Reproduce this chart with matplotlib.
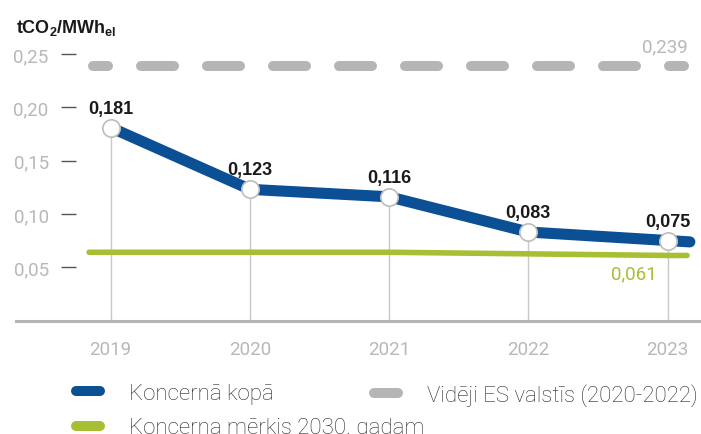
import numpy as np
import matplotlib.pyplot as plt
from matplotlib.lines import Line2D

plt.rcParams['font.family'] = ['Roboto', 'Liberation Sans', 'DejaVu Sans']
plt.rcParams['mathtext.fontset'] = 'custom'
plt.rcParams['mathtext.bf'] = 'Liberation Sans:bold'
plt.rcParams['mathtext.rm'] = 'Liberation Sans'

years = ['2019', '2020', '2021', '2022', '2023']
group_total = [0.181, 0.123, 0.116, 0.083, 0.075]
target_2030 = [0.064, 0.064, 0.064, 0.0625, 0.061]
eu_average = 0.239
yticks = [0.05, 0.10, 0.15, 0.20, 0.25]

labels = ['Koncernā kopā', 'Koncerna mērķis 2030. gadam', 'Vidēji ES valstīs (2020-2022)']

blue = '#0b4f95'
green = '#a6bf33'
grey = '#b5b5b5'
tick_grey = '#b8b8b8'

def comma(v, n):
  return (('%.' + str(n) + 'f') % v).replace('.', ',')

fig = plt.figure(figsize=(7.01, 4.35), dpi=100)
ax = fig.add_axes([16 / 701, 1 - 321.5 / 435, 685 / 701, 281.5 / 435])

xs = np.arange(len(years))
ax.set_xlim(-0.68, 4.24)
ax.set_ylim(0, 0.264)

# lines run a bit past the first and last year
ext = 0.16
bx = list(xs) + [xs[-1] + ext]
by = group_total + [group_total[-1] + (group_total[-1] - group_total[-2]) * ext]
gx = [-0.155] + list(xs) + [4.14]
gy = [target_2030[0]] + target_2030 + [target_2030[-1]]

# thin drop lines from each point to the baseline
for x, v in zip(xs, group_total):
  ax.plot([x, x], [0, v], color='#c9c9c9', lw=1.0, zorder=1)

ax.plot([-0.13, 4.12], [eu_average, eu_average], color=grey, lw=7.2,
        dash_capstyle='round', linestyle=(1.8, (3.3, 3.3)), zorder=2)
ax.plot(gx, gy, color=green, lw=4.0, solid_capstyle='round', zorder=3)
ax.plot(bx, by, color=blue, lw=8.0, solid_capstyle='round',
        solid_joinstyle='round', zorder=4)
ax.plot(xs, group_total, 'o', ms=12.5, mfc='white', mec='#bdbdbd', mew=1.2, zorder=5)

for x, v in zip(xs, group_total):
  ax.annotate(comma(v, 3), (x, v), xytext=(0, 14),
              textcoords='offset points', ha='center', va='center',
              fontsize=13, fontweight='bold', color='#1a1a1a',
              family=['Liberation Sans', 'DejaVu Sans'])

ax.annotate(comma(eu_average, 3), (xs[-1], eu_average),
            xytext=(-2, 14), textcoords='offset points', ha='center', va='center',
            fontsize=13.5, color=tick_grey)
ax.annotate(comma(target_2030[-1], 3), (xs[-1], target_2030[-1]),
            xytext=(-8, -13), textcoords='offset points', ha='right', va='center',
            fontsize=13.5, color=green)

# axes styling
for s in ['top', 'right', 'left']:
  ax.spines[s].set_visible(False)
ax.spines['bottom'].set_color(grey)
ax.spines['bottom'].set_linewidth(2.2)

ax.set_xticks(xs)
ax.set_xticklabels(years)
ax.tick_params(axis='x', length=0, pad=14, labelsize=13.5, labelcolor=tick_grey)

ax.spines['left'].set_position(('data', -0.355))
ax.set_yticks(yticks)
ax.set_yticklabels([comma(v, 2) for v in yticks])
ax.tick_params(axis='y', direction='in', length=11, width=1.0, color='#555555',
               pad=9, labelsize=13.5, labelcolor=tick_grey)

fig.text(16 / 701, 1 - 28 / 435, r'$\mathbf{tCO_2/MWh_{el}}$', fontsize=13,
         color='#1a1a1a', va='center', ha='left')

# legend: two groups placed side by side
h_blue = Line2D([], [], color=blue, lw=7.2, solid_capstyle='round')
h_green = Line2D([], [], color=green, lw=7.2, solid_capstyle='round')
h_grey = Line2D([], [], color=grey, lw=7.2, solid_capstyle='round')

leg_kw = dict(frameon=False, handlelength=1.1, handletextpad=1.3,
              borderpad=0, borderaxespad=0, labelspacing=0.6, loc='upper left',
              labelcolor='#2a2a2a', prop=dict(family='Roboto', size=16, weight='light'))
fig.legend([h_blue, h_green], labels[:2], bbox_to_anchor=(76 / 701, 1 - 384 / 435), **leg_kw)
fig.legend([h_grey], labels[2:], bbox_to_anchor=(374 / 701, 1 - 384 / 435), **leg_kw)

fig.savefig('out.png', dpi=100)
